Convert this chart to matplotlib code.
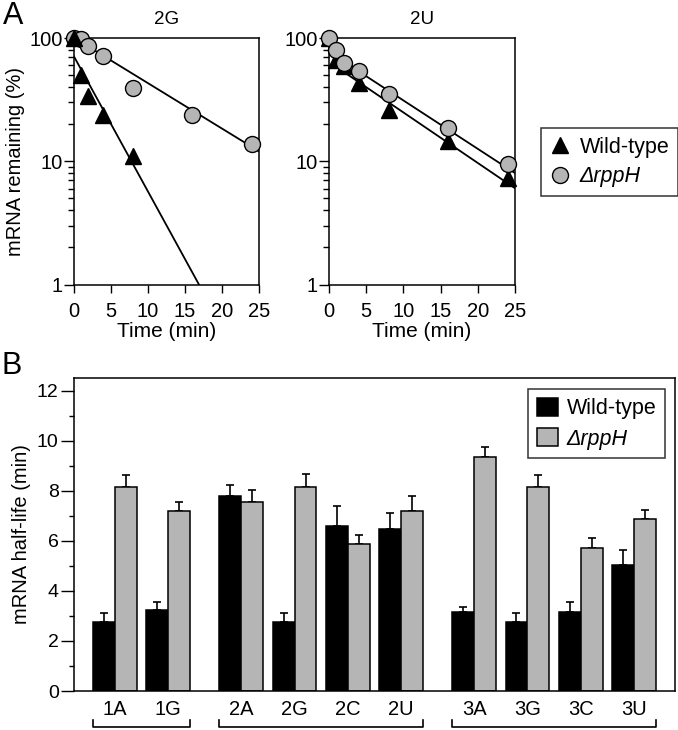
import numpy as np
import matplotlib
matplotlib.use("Agg")
import matplotlib.pyplot as plt
from matplotlib.transforms import blended_transform_factory

plt.rcParams['font.family'] = ['Liberation Sans', 'DejaVu Sans']

# ---- panel A data: mRNA remaining (%) vs time ----
time_pts = [0, 1, 2, 4, 8, 16, 24]
g2_wt_time = [0, 1, 2, 4, 8]
g2_wt = [100, 50.4, 33.7, 23.9, 11.0]
g2_rpph = [100, 98, 85.6, 71.9, 39.3, 23.9, 13.7]
u2_wt = [100, 66.7, 58.9, 43.2, 26.2, 14.5, 7.3]
u2_rpph = [100, 79.4, 62.7, 54.3, 35.2, 18.5, 9.5]

# fitted decay lines: (value at t=0, half-life in min, first time drawn)
g2_wt_fit = (72, 2.74, 0)
g2_rpph_fit = (101, 8.15, 0)
u2_wt_fit = (64, 7.34, 2)
u2_rpph_fit = (77, 7.66, 2)

# ---- panel B data: mRNA half-life (min) ----
constructs = ['1A', '1G', '2A', '2G', '2C', '2U', '3A', '3G', '3C', '3U']
groups = [1, 1, 2, 2, 2, 2, 3, 3, 3, 3]
hl_wt = [2.77, 3.24, 7.77, 2.77, 6.57, 6.48, 3.15, 2.77, 3.15, 5.04]
hl_wt_err = [0.36, 0.31, 0.47, 0.36, 0.80, 0.61, 0.22, 0.35, 0.40, 0.59]
hl_rpph = [8.13, 7.17, 7.55, 8.13, 5.88, 7.17, 9.33, 8.13, 5.73, 6.85]
hl_rpph_err = [0.51, 0.38, 0.49, 0.54, 0.36, 0.62, 0.43, 0.51, 0.40, 0.39]

gray = '#b5b5b5'
W, H = 678, 730

fig = plt.figure(figsize=(W / 100, H / 100), dpi=100)


def px_axes(left, top, right, bottom):
    return fig.add_axes([left / W, 1 - bottom / H, (right - left) / W, (bottom - top) / H])


def decay_line(ax, fit):
    y0, hl, t0 = fit
    t = np.array([t0, 25.0])
    ax.plot(t, y0 * 2 ** (-t / hl), color='black', lw=1.3, zorder=2)


def style_a(ax, title):
    ax.set_yscale('log')
    ax.set_xlim(0, 25)
    ax.set_ylim(1, 100)
    ax.set_xticks([0, 5, 10, 15, 20, 25])
    ax.set_yticks([1, 10, 100])
    ax.set_yticklabels(['1', '10', '100'])
    ax.tick_params(axis='y', which='major', length=7, width=1, pad=1, labelsize=14.5)
    ax.tick_params(axis='y', which='minor', length=4.5, width=1)
    ax.tick_params(axis='x', length=6, width=1, pad=6.5, labelsize=14.5)
    ax.set_xlabel('Time (min)', fontsize=15, labelpad=1)
    ax.set_title(title, fontsize=13.5, pad=10)
    for s in ax.spines.values():
        s.set_linewidth(1.1)


ms = 11.5
axL = px_axes(73.5, 38, 259, 284.5)
decay_line(axL, g2_wt_fit)
decay_line(axL, g2_rpph_fit)
axL.plot(time_pts, g2_rpph, 'o', ms=ms, mfc=gray, mec='black', mew=1, clip_on=False, zorder=3)
axL.plot(g2_wt_time, g2_wt, '^', ms=ms, color='black', clip_on=False, zorder=4)
style_a(axL, '2G')
axL.set_ylabel('mRNA remaining (%)', fontsize=14.5, labelpad=3)

axR = px_axes(329, 38, 515, 284.5)
decay_line(axR, u2_wt_fit)
decay_line(axR, u2_rpph_fit)
h_wt, = axR.plot(time_pts, u2_wt, '^', ms=ms, color='black', clip_on=False, zorder=3,
                 label='Wild-type')
h_rp, = axR.plot(time_pts, u2_rpph, 'o', ms=ms, mfc=gray, mec='black', mew=1, clip_on=False,
                 zorder=4, label='ΔrppH')
style_a(axR, '2U')

legA = fig.legend(handles=[h_wt, h_rp], loc='upper left',
                  bbox_to_anchor=(541 / W, 1 - 128 / H), bbox_transform=fig.transFigure,
                  borderaxespad=0, fancybox=False, edgecolor='black', fontsize=15.5,
                  handlelength=1.0, handletextpad=0.4, borderpad=0.4, labelspacing=0.4)
legA.get_frame().set_linewidth(1.1)
legA.get_texts()[1].set_fontstyle('italic')

# ---- panel B ----
axB = px_axes(74, 378, 675, 691)
gap = 0.37
xpos = np.arange(len(constructs)) + gap * (np.array(groups) - 1)
bw = 0.41
axB.bar(xpos - bw / 2, hl_wt, bw, color='black', edgecolor='black', lw=1.1,
        label='Wild-type', zorder=2)
axB.bar(xpos + bw / 2, hl_rpph, bw, color=gray, edgecolor='black', lw=1.1,
        label='ΔrppH', zorder=2)
zeros = np.zeros(len(constructs))
axB.errorbar(xpos - bw / 2, hl_wt, yerr=[zeros, hl_wt_err], fmt='none', ecolor='black',
             elinewidth=1.2, capsize=3, capthick=1.2, zorder=1)
axB.errorbar(xpos + bw / 2, hl_rpph, yerr=[zeros, hl_rpph_err], fmt='none', ecolor='black',
             elinewidth=1.2, capsize=3, capthick=1.2, zorder=1)

axB.set_xlim(-0.77, 10.51)
axB.set_ylim(0, 12.5)
axB.set_yticks(range(0, 13, 2))
axB.set_yticks(range(1, 13, 2), minor=True)
axB.tick_params(axis='y', which='major', length=9.5, width=1, pad=1.5, labelsize=14)
axB.tick_params(axis='y', which='minor', length=3.5, width=1)
axB.set_xticks(xpos)
axB.set_xticklabels(constructs)
axB.tick_params(axis='x', length=0, pad=6.5, labelsize=14.5)
axB.set_ylabel('mRNA half-life (min)', fontsize=14.5, labelpad=4)
for s in axB.spines.values():
    s.set_linewidth(1.1)

# group brackets under the labels
tr = blended_transform_factory(axB.transData, axB.transAxes)
for g in sorted(set(groups)):
    xs = xpos[np.array(groups) == g]
    x0, x1 = xs.min() - bw, xs.max() + bw
    axB.plot([x0, x0, x1, x1], [-0.093, -0.115, -0.115, -0.093], color='black', lw=1.2,
             transform=tr, clip_on=False)

legB = axB.legend(loc='upper right', bbox_to_anchor=(665 / W, 1 - 389 / H),
                  bbox_transform=fig.transFigure, borderaxespad=0, fancybox=False,
                  edgecolor='black', fontsize=15.5, handlelength=1.0, handleheight=0.95,
                  handletextpad=0.4, borderpad=0.4, labelspacing=0.4)
legB.get_frame().set_linewidth(1.1)
legB.get_texts()[1].set_fontstyle('italic')

fig.text(3 / W, 1 - 1 / H, 'A', fontsize=22, va='top', ha='left')
fig.text(2 / W, 1 - 351 / H, 'B', fontsize=22, va='top', ha='left')

fig.savefig('out.png', dpi=100)
